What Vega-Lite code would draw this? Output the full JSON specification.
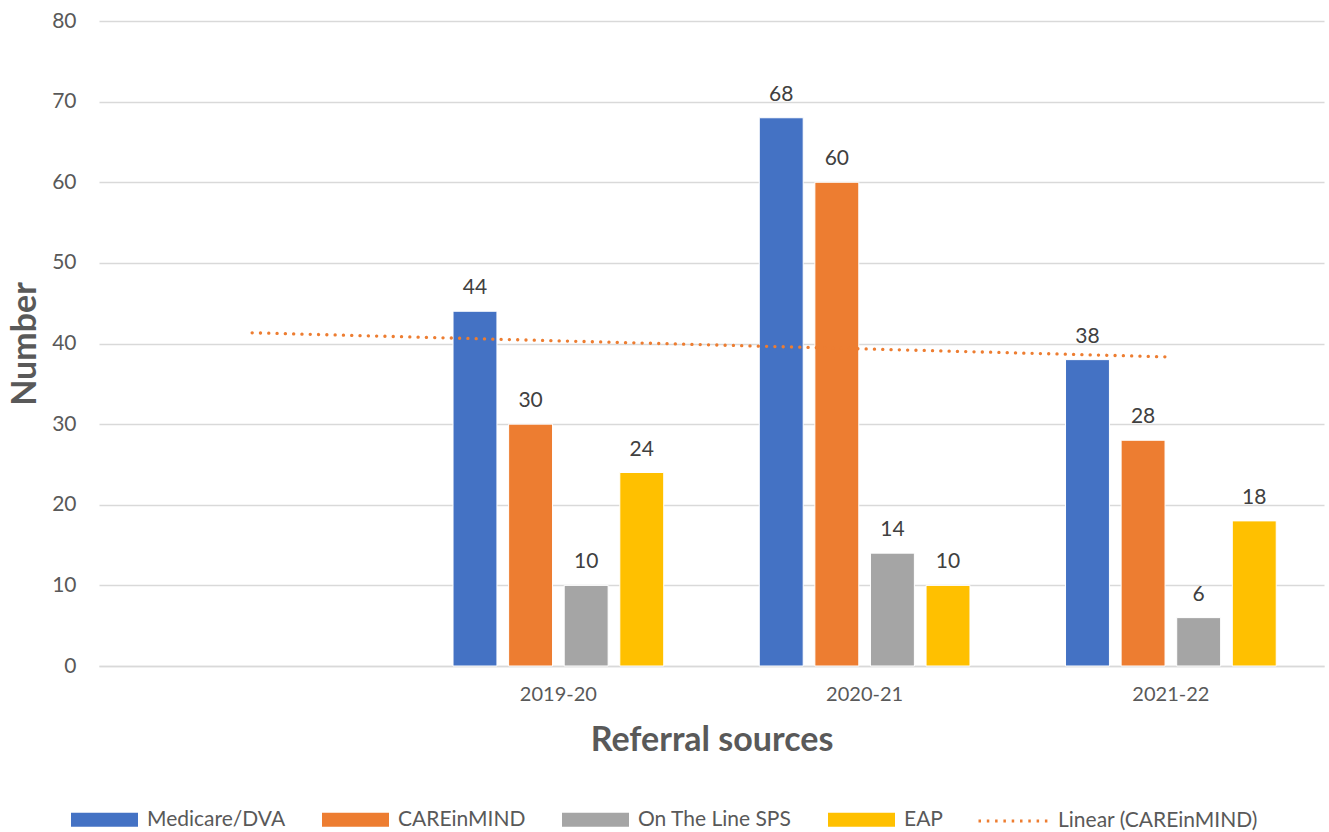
{
  "$schema": "https://vega.github.io/schema/vega-lite/v6.json",
  "autosize": {"type": "none"},
  "width": 1225,
  "height": 645,
  "padding": {"left": 99, "top": 21, "right": 5, "bottom": 166},
  "background": "white",
  "config": {
    "font": "Lato",
    "view": {"stroke": null},
    "axis": {"labelFont": "Lato", "titleFont": "Lato"},
    "legend": {"labelFont": "Lato"}
  },
  "datasets": {
    "bars": [
      {"year": "2019-20", "source": "Medicare/DVA", "value": 44},
      {"year": "2019-20", "source": "CAREinMIND", "value": 30},
      {"year": "2019-20", "source": "On The Line SPS", "value": 10},
      {"year": "2019-20", "source": "EAP", "value": 24},
      {"year": "2020-21", "source": "Medicare/DVA", "value": 68},
      {"year": "2020-21", "source": "CAREinMIND", "value": 60},
      {"year": "2020-21", "source": "On The Line SPS", "value": 14},
      {"year": "2020-21", "source": "EAP", "value": 10},
      {"year": "2021-22", "source": "Medicare/DVA", "value": 38},
      {"year": "2021-22", "source": "CAREinMIND", "value": 28},
      {"year": "2021-22", "source": "On The Line SPS", "value": 6},
      {"year": "2021-22", "source": "EAP", "value": 18}
    ],
    "trend": [
      {"year": " ", "series": "Linear (CAREinMIND)", "trend": 41.33},
      {"year": "2019-20", "series": "Linear (CAREinMIND)", "trend": 40.33},
      {"year": "2020-21", "series": "Linear (CAREinMIND)", "trend": 39.33},
      {"year": "2021-22", "series": "Linear (CAREinMIND)", "trend": 38.33}
    ]
  },
  "layer": [
    {
      "data": {"name": "bars"},
      "mark": {"type": "bar", "stroke": "white", "strokeWidth": 1},
      "encoding": {
        "x": {
          "field": "year", "type": "nominal",
          "scale": {"domain": [" ", "2019-20", "2020-21", "2021-22"], "paddingInner": 0.312, "paddingOuter": 0.156},
          "axis": {
            "title": "Referral sources",
            "titleFontSize": 34, "titleFontWeight": "bold", "titleColor": "#595959", "titlePadding": 19,
            "labelFontSize": 20, "labelColor": "#595959", "labelPadding": 18, "labelAngle": 0,
            "ticks": false, "tickSize": 0,
            "domainColor": "#D9D9D9", "domainWidth": 1.5
          }
        },
        "xOffset": {
          "field": "source", "type": "nominal",
          "scale": {"domain": ["Medicare/DVA", "CAREinMIND", "On The Line SPS", "EAP"], "paddingInner": 0.21, "paddingOuter": 0}
        },
        "y": {
          "field": "value", "type": "quantitative",
          "scale": {"domain": [0, 80], "nice": false},
          "axis": {
            "title": "Number",
            "values": [0, 10, 20, 30, 40, 50, 60, 70, 80],
            "titleFontSize": 34, "titleFontWeight": "bold", "titleColor": "#595959", "titlePadding": 9,
            "labelFontSize": 21, "labelColor": "#595959", "labelPadding": 23,
            "ticks": false, "domain": false,
            "gridColor": "#D9D9D9", "gridWidth": 1.5
          }
        },
        "color": {
          "field": "source", "type": "nominal",
          "scale": {"domain": ["Medicare/DVA", "CAREinMIND", "On The Line SPS", "EAP"], "range": ["#4472C4", "#ED7D31", "#A5A5A5", "#FFC000"]},
          "legend": {
            "title": null, "orient": "none", "direction": "horizontal",
            "legendX": -28, "legendY": 765,
            "symbolType": "M-1,-0.21H1V0.21H-1Z", "symbolSize": 4489, "symbolStrokeWidth": 0,
            "labelFontSize": 21, "labelColor": "#595959", "labelOffset": 9, "labelLimit": 400,
            "columnPadding": 36
          }
        }
      }
    },
    {
      "data": {"name": "bars"},
      "mark": {"type": "text", "baseline": "alphabetic", "dy": -17, "fontSize": 21, "color": "#404040"},
      "encoding": {
        "x": {"field": "year", "type": "nominal"},
        "xOffset": {"field": "source", "type": "nominal"},
        "y": {"field": "value", "type": "quantitative"},
        "text": {"field": "value", "type": "quantitative"}
      }
    },
    {
      "data": {"name": "trend"},
      "mark": {"type": "line", "strokeDash": [0.1, 8.2], "strokeCap": "round", "strokeWidth": 3.3},
      "encoding": {
        "x": {"field": "year", "type": "nominal"},
        "y": {"field": "trend", "type": "quantitative"},
        "stroke": {
          "field": "series", "type": "nominal",
          "scale": {"range": ["#ED7D31"]},
          "legend": {
            "title": null, "orient": "none", "legendX": 878, "legendY": 764,
            "symbolType": "stroke", "symbolSize": 4761, "symbolStrokeWidth": 3, "symbolDash": [2.5, 5.8],
            "labelFontSize": 21, "labelColor": "#595959", "labelOffset": 9, "labelLimit": 400
          }
        }
      }
    }
  ]
}
